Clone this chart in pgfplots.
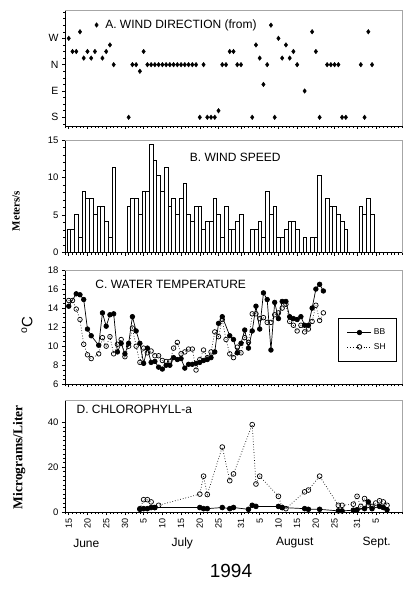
\documentclass[border=0pt]{standalone}
\usepackage{fontspec}
\setmainfont{Liberation Sans}
\newfontfamily\tnr{Liberation Serif}
\usepackage{pgfplots}
\pgfplotsset{compat=1.18}
\begin{document}
\begin{tikzpicture}
\path[use as bounding box] (0pt,0pt) rectangle (415pt,-589pt);
\pgfplotsset{
  panel/.style={
    scale only axis, width=337pt, anchor=north west,
    xmin=14, xmax=104,
    axis x line*=bottom, axis y line*=left,
    axis line style={line width=0.6pt},
    tick align=outside,
    xtick={15,20,25,30,35,40,45,50,55,61,66,71,76,81,86,92,97},
    minor xtick={14,...,104},
    major tick length=3pt, minor tick length=2pt,
    every tick/.style={black, line width=0.5pt},
    tick label style={font=\fontsize{9.5}{10}\selectfont},
    /pgf/number format/assume math mode=true,
    clip=false,
  },
}
% ---------------- A
\begin{axis}[panel, at={(65pt,-10.7pt)}, height=115.3pt,
  ymin=-0.33, ymax=4.05,
  ytick={0,1,2,3}, yticklabels={S,E,N,W},
  minor ytick={-0.25,0,...,4},
  yticklabel style={font=\fontsize{10.5}{11}\selectfont},
  xticklabels={},
  legend style={draw=none, fill=none, at={(axis description cs:0.088,0.876)}, anchor=west, font=\fontsize{12}{14}\selectfont, inner sep=0pt,
    /tikz/every odd column/.append style={column sep=5pt}},
  legend cell align=left,
  legend image code/.code={\draw[#1] plot coordinates {(0pt,0pt)};},
]
\addplot[only marks, mark=diamond*, mark size=2.3pt, black] coordinates {
(15,3.0)(16,2.5)(17,2.5)(18,3.25)(19,2.25)(20,2.5)(21,2.25)(22,2.5)(24,2.25)(25,2.5)(26,2.75)(27,2.0)
(31,0)(32,2)(33,2)(34,1.75)(35,2.5)
(36,2)(37,2)(38,2)(39,2)(40,2)(41,2)(42,2)(43,2)(44,2)(45,2)(46,2)(47,2)(48,2)(49,2)
(50,0)(51,2)(52,0)(53,0)(54,0)(55,0.25)(56,2)(57,2)(58,2.5)(59,2.5)(60,2)(61,2)
(64,0)(65,2.75)(66,2.25)(67,1.25)(68,2)(69,3.5)(70,0)(71,3)(72,2.25)(73,2.75)(74,2.25)(75,2.5)(76,2)
(78,1.0)(80,3.25)(81,2.5)(82,0)(84,2)(85,2)(86,2)(87,2)(88,0)(89,0)(93,2)(94,0)(95,3.25)(96,2)
};
\addlegendentry{A. WIND DIRECTION (from)}
\draw[gray!70, line width=0.5pt] (rel axis cs:0,1) -- (rel axis cs:1,1) -- (rel axis cs:1,0);
\end{axis}
% ---------------- B
\begin{axis}[panel, at={(65pt,-140pt)}, height=112.7pt,
  ymin=0, ymax=15, ytick={0,5,10,15}, minor y tick num=4, xticklabels={},
  ylabel={\tnr\bfseries Meters/s},
  ylabel style={at={(axis description cs:-0.145,0.37)}, anchor=center, font=\fontsize{11}{12}\selectfont},
]
\addplot[ybar, bar width=1, fill=white, draw=black, line width=0.5pt] coordinates {
(15,3.09)(16,3.09)(17,5.14)(18,2.06)(19,8.23)(20,7.20)(21,7.20)(22,5.14)(23,6.17)(24,6.17)(25,4.12)(26,2.06)(27,11.32)
(31,6.17)(32,7.20)(33,7.20)(34,5.14)(35,8.23)(36,8.23)(37,14.40)(38,12.35)(39,10.29)(40,8.23)(41,11.32)(42,6.17)(43,7.20)(44,5.14)(45,7.20)(46,9.26)(47,5.14)(48,4.12)(49,6.17)(50,6.17)(51,3.09)(52,4.12)(53,4.12)(54,7.20)(55,5.14)(56,2.06)(57,6.17)(58,3.09)(59,3.09)(60,4.12)(61,5.14)
(64,3.09)(65,3.09)(66,4.12)(67,2.06)(68,8.23)(69,5.14)(70,6.17)(71,2.06)(72,2.06)(73,3.09)(74,4.12)(75,4.12)(76,3.09)
(78,2.06)(80,2.06)(81,2.06)(82,10.29)
(84,7.20)(85,6.17)(86,6.17)(87,5.14)(88,4.12)(89,3.09)
(93,6.17)(94,5.14)(95,7.20)(96,5.14)
};
\node[font=\fontsize{12}{14}\selectfont] at (axis description cs:0.505,0.85) {B. WIND SPEED};
\draw[gray!70, line width=0.5pt] (rel axis cs:0,1) -- (rel axis cs:1,1) -- (rel axis cs:1,0);
\end{axis}
% ---------------- C
\begin{axis}[panel, at={(65pt,-270pt)}, height=114.3pt,
  ymin=6, ymax=18, ytick={6,8,...,18}, minor y tick num=3, xticklabels={},
  ylabel={\textsuperscript{o}C},
  ylabel style={at={(axis description cs:-0.113,0.52)}, anchor=center, font=\fontsize{15}{16}\selectfont},
  legend style={at={(axis description cs:0.985,0.584)}, anchor=north east, draw=black, line width=0.6pt, inner xsep=9pt, inner ysep=9pt, row sep=3pt, font=\fontsize{8.5}{10}\selectfont},
  legend cell align=left,
  legend image code/.code={\draw[mark repeat=2,mark phase=2,#1] plot coordinates {(0pt,0pt)(12pt,0pt)(24pt,0pt)};},
]
\addplot[black, line width=0.7pt, mark=*, mark size=2.3pt] coordinates {
(15,14.2)(17,15.5)(18,15.4)(19,14.9)(20,11.8)(21,11.1)(23,10.1)(24,13.5)(25,12.1)(26,13.3)(27,13.4)(28,9.4)(29,10.3)(30,9.2)(31,10.3)(32,13.1)(33,11.6)(34,10.3)(35,8.2)(36,9.8)(37,8.3)(38,8.4)(39,7.8)(40,7.6)(41,8.0)(42,8.0)(43,8.8)(44,8.6)(45,8.7)(46,7.7)(47,8.1)(48,8.1)(49,8.2)(50,8.3)(51,8.5)(52,8.6)(53,8.8)(54,9.4)(55,12.4)(56,13.1)(58,11.1)(59,10.7)(60,9.3)(61,10.3)(62,11.7)(63,9.8)(64,11.6)(65,14.2)(66,11.8)(67,15.6)(68,14.9)(69,9.6)(70,14.6)(71,12.9)(72,14.7)(73,14.7)(74,13.1)(75,12.9)(76,12.8)(77,13.1)(78,12.2)(79,12.2)(80,14.0)(81,16.0)(82,16.5)(83,15.8)
};
\addlegendentry{BB}
\addplot[black, line width=0.7pt, dotted, mark=o, mark size=2.3pt, mark options={solid, fill=white}] coordinates {
(15,14.8)(16,14.8)(17,13.9)(18,12.8)(19,10.2)(20,9.1)(21,8.7)(23,9.2)(24,10.9)(25,10.0)(26,11.0)(27,9.2)(28,10.2)(29,10.7)(30,8.9)(31,10.0)(32,11.9)(33,10.0)(34,8.3)(35,9.8)(36,9.3)(37,9.5)(38,9.0)(39,9.0)(40,8.5)(41,8.4)(42,8.4)(43,9.8)(44,10.4)(45,9.2)(46,9.4)(47,9.7)(48,9.7)(49,7.5)(50,8.6)(51,9.6)(52,8.8)(53,9.4)(54,11.5)(55,11.0)(56,12.8)(57,10.7)(58,9.2)(59,8.8)(60,9.9)(61,9.3)(62,10.9)(63,10.4)(64,13.4)(65,13.4)(66,12.9)(67,13.0)(68,12.5)(69,12.5)(70,13.3)(71,13.5)(72,14.0)(73,14.4)(74,12.6)(75,12.2)(76,11.6)(77,12.2)(78,11.5)(79,11.8)(80,12.6)(81,14.3)(82,12.7)(83,13.5)
};
\addlegendentry{SH}
\node[font=\fontsize{12}{14}\selectfont, anchor=west] at (axis description cs:0.08,0.875) {C. WATER TEMPERATURE};
\draw[gray!70, line width=0.5pt] (rel axis cs:0,1) -- (rel axis cs:1,1) -- (rel axis cs:1,0);
\end{axis}
% ---------------- D
\begin{axis}[panel, at={(65pt,-400pt)}, height=112pt,
  ymin=0, ymax=50, ytick={0,20,40}, minor y tick num=9,
  xticklabels={15,20,25,30,5,10,15,20,25,31,5,10,15,20,25,31,5},
  xticklabel style={rotate=90, anchor=east, font=\fontsize{9}{10}\selectfont},
  ylabel={\tnr\bfseries Micrograms/Liter},
  ylabel style={at={(axis description cs:-0.136,0.49)}, anchor=center, font=\fontsize{13.5}{15}\selectfont},
]
\addplot[black, line width=0.7pt, dotted, mark=o, mark size=2.4pt, mark options={solid, fill=white}] coordinates {
(34,1.5)(35,5.5)(36,5.5)(37,4.5)(38,2)(39,3)(50,8)(51,16)(52,7.8)(56,29)(58,14)(59,17)(64,39)(65,12.5)(66,16)(71,7)(72,2)(73,1.5)(78,9)(79,9.8)(82,16)(87,3)(88,3)(91,3.5)(92,7)(93,2.5)(94,6)(95,3)(96,2.5)(97,4)(98,5)(99,4.5)(100,3)
};
\addplot[black, line width=0.7pt, mark=*, mark size=2.4pt] coordinates {
(34,1.2)(35,1.5)(36,1.5)(37,2.0)(38,2.0)(50,2.0)(51,1.5)(52,1.5)(56,2.0)(58,1.5)(59,2.0)(63,1.2)(64,3.0)(65,2.5)(71,2.5)(72,2.0)(78,1.5)(79,1.2)(82,1.2)(87,0.5)(88,0.5)(91,0.8)(92,1.0)(94,1.5)(95,4.5)(96,1.5)(98,2.5)(99,2)(100,1)
};
\node[font=\fontsize{12}{14}\selectfont, anchor=west] at (axis description cs:0.024,0.92) {D. CHLOROPHYLL-a};
\draw[gray!70, line width=0.5pt] (rel axis cs:0,1) -- (rel axis cs:1,1) -- (rel axis cs:1,0);
\end{axis}
% ---------------- labels
\node[font=\fontsize{12}{14}\selectfont] at (86.3pt,-543pt) {June};
\node[font=\fontsize{12}{14}\selectfont] at (182.3pt,-543pt) {July};
\node[font=\fontsize{12}{14}\selectfont] at (294.7pt,-543pt) {August};
\node[font=\fontsize{12}{14}\selectfont] at (376.7pt,-543pt) {Sept.};
\node[font=\fontsize{19}{22}\selectfont] at (231pt,-571pt) {1994};
\end{tikzpicture}
\end{document}
